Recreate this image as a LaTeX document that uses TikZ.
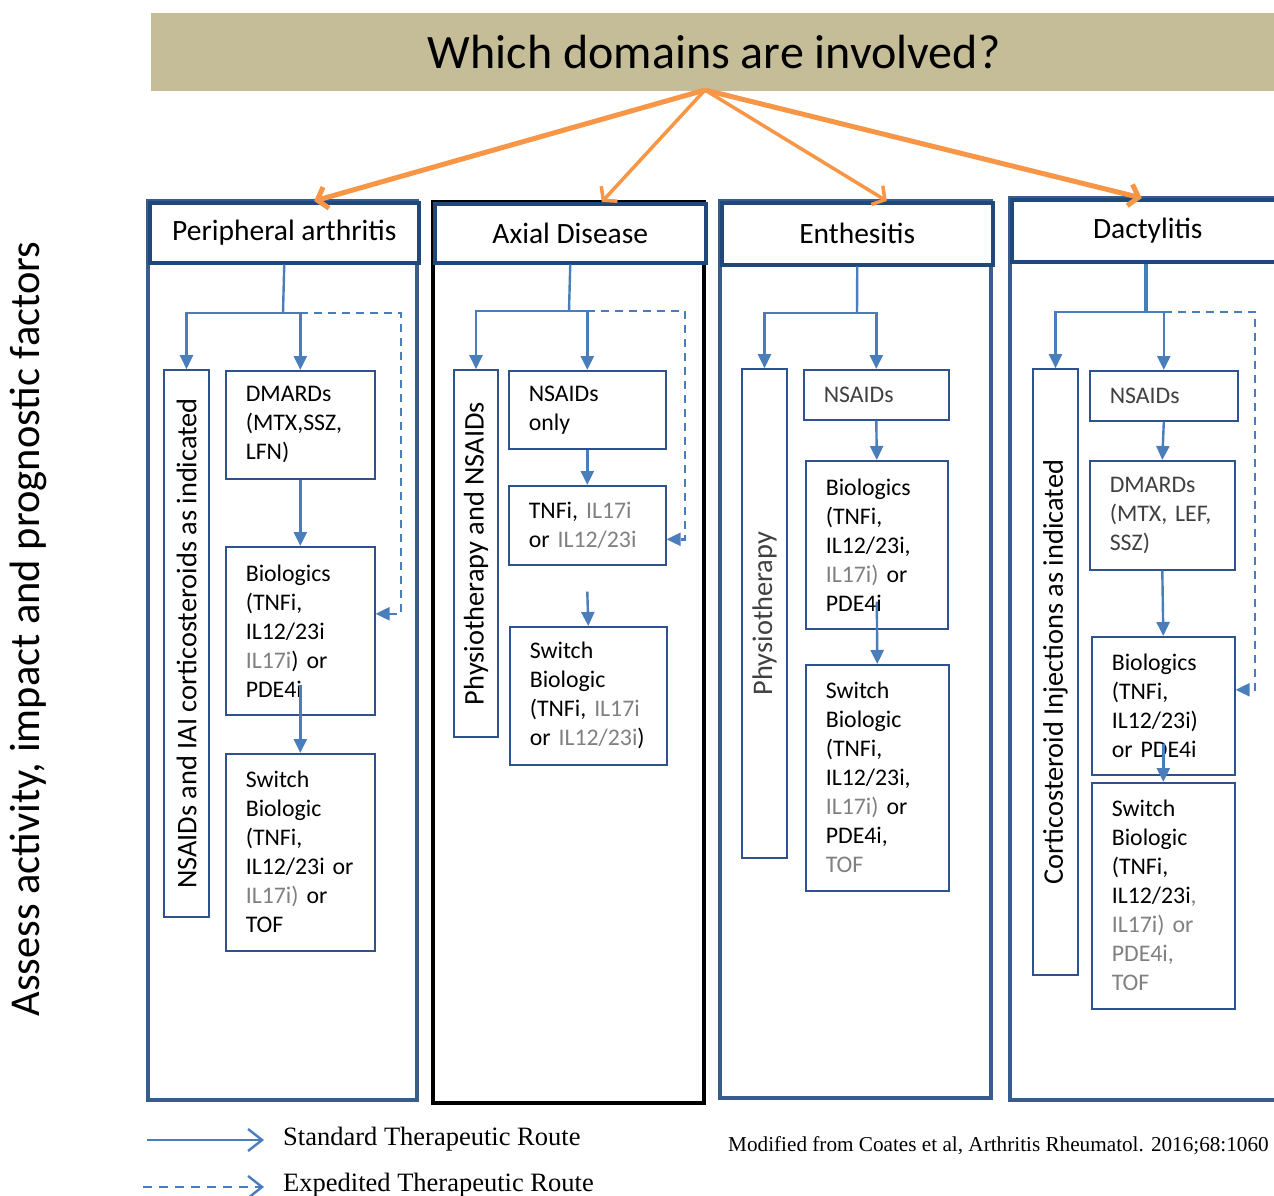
\documentclass[tikz,border=0pt]{standalone}
\usepackage{fontspec}
\setmainfont{Carlito}
\newfontfamily\timesfont{Liberation Serif}
\usepackage{tikz}
\usetikzlibrary{arrows.meta,calc}
\definecolor{TanBar}{RGB}{196,189,151}
\definecolor{OrangeAr}{RGB}{247,150,70}
\definecolor{BoxBlue}{RGB}{47,82,143}
\definecolor{FrameBlue}{RGB}{56,93,138}
\definecolor{HeadBlue}{RGB}{31,73,125}
\definecolor{RouteBlue}{RGB}{74,126,187}
\definecolor{GrayTxt}{RGB}{128,128,128}
\definecolor{DarkTxt}{RGB}{64,64,64}

\begin{document}
\begin{tikzpicture}[x=1pt,y=-1pt,
    drugbox/.style={draw=BoxBlue, line width=1.6pt, align=left, inner xsep=20pt, inner ysep=0pt, anchor=north west, font=\fontsize{23.8}{29}\selectfont},
    sidebox/.style={draw=BoxBlue, line width=1.6pt, rotate=90, inner sep=0pt, font=\fontsize{28.4}{30}\selectfont},
    domhead/.style={draw=HeadBlue, line width=3.5pt, anchor=north west, inner sep=0pt, font=\fontsize{29.5}{32}\selectfont},
    domframe/.style={draw=FrameBlue, line width=4pt},
    stdroute/.style={RouteBlue, line width=2.4pt, -{Triangle[length=14pt,width=13pt]}},
    fastroute/.style={stdroute, dash pattern=on 8pt off 6pt},
    legroute/.style={RouteBlue, line width=2.4pt, -{Straight Barb[length=14pt,width=22pt,line width=2.4pt]}},
    fanarrow/.style={OrangeAr, line width=5pt, -{Straight Barb[length=9pt,width=22pt]}}]
        \useasboundingbox (0,0) rectangle (1274,1196);
        %Title
        \node[fill=TanBar, anchor=north west, minimum width=1126, minimum height=78, inner sep=0pt, font=\fontsize{48}{52}\selectfont] (quest) at (151,13) {Which domains are involved?};
        \node[rotate=90, font=\fontsize{42.5}{46}\selectfont] (assess) at (28,629) {Assess activity, impact and prognostic factors};
        %Frames
        \draw[domframe] (148,201) rectangle (417,1100);
        \draw[line width=4pt, black] (433,202) rectangle (704,1103);
        \draw[domframe] (720,201) rectangle (991,1098);
        \draw[domframe] (1010,198) rectangle (1290,1100);
        %Headers
        \node[domhead, fill=white, minimum width=269, minimum height=60] (pahead) at (148,201) {Peripheral arthritis};
        \node[domhead, fill=white, minimum width=271, minimum height=59] (axhead) at (433,202) {Axial Disease};
        \node[domhead, fill=white, minimum width=271, minimum height=62] (enhead) at (720,201) {Enthesitis};
        \node[domhead, fill=white, minimum width=280, minimum height=62] (dahead) at (1010,198) {\hspace*{-8pt}Dactylitis};
        %Fan
        \coordinate (fan) at (705,90);
        \draw[fanarrow] (fan) -- ([xshift=30pt]pahead.north);
        \draw[fanarrow, line width=3.5pt] (fan) -- ([xshift=31.5pt]axhead.north);
        \draw[fanarrow, line width=3.5pt] (fan) -- ([xshift=29.5pt]enhead.north);
        \draw[fanarrow] (fan) -- ([xshift=-10pt]dahead.north);

        %Peripheral arthritis
        \node[sidebox, minimum width=547, minimum height=45] (pa0) at (186.5,643.5) {NSAIDs and IAI corticosteroids as indicated};
        \node[drugbox, text width=109, minimum height=108] (pa1) at (225,370) {DMARDs\\(MTX,SSZ,\\LFN)};
        \node[drugbox, text width=109, minimum height=168] (pa2) at (225,546) {Biologics\\(TNFi,\\IL12/23i\\\textcolor{GrayTxt}{IL17i}) or\\PDE4i};
        \node[drugbox, text width=109, minimum height=197] (pa3) at (225,753) {Switch\\Biologic\\(TNFi,\\IL12/23i or\\\textcolor{GrayTxt}{IL17i)} or\\TOF};
        \coordinate (pasplit) at (283,313);
        \coordinate (padash) at (401,313);
        \draw[stdroute, -] (pahead.south) -- (pasplit);
        \draw[stdroute] (pasplit) -| (pa0.east);
        \draw[stdroute] (pasplit) -| (pa1.north);
        \draw[stdroute] (pa1.south) -- (pa2.north);
        \draw[stdroute] ([yshift=31pt]pa2.south) -- (pa3.north);
        \draw[fastroute] (pa1.north |- pasplit) -- (padash) |- ([yshift=17pt]pa2.east);

        %Axial disease
        \node[sidebox, minimum width=367, minimum height=44] (ax0) at (476,553.5) {Physiotherapy and NSAIDs};
        \node[drugbox, text width=117, minimum height=78] (ax1) at (508,370) {NSAIDs\\only};
        \node[drugbox, text width=117, minimum height=79] (ax2) at (508,485) {TNFi, \textcolor{GrayTxt}{IL17i}\\or \textcolor{GrayTxt}{IL12/23i}};
        \node[drugbox, text width=117, minimum height=138] (ax3) at (509,626) {Switch\\Biologic\\(TNFi, \textcolor{GrayTxt}{IL17i}\\or \textcolor{GrayTxt}{IL12/23i})};
        \coordinate (axsplit) at (569,311);
        \coordinate (axdash) at (685,311);
        \draw[stdroute, -] (axhead.south) -- (axsplit);
        \draw[stdroute] (axsplit) -| (ax0.east);
        \draw[stdroute] (axsplit) -| (ax1.north);
        \draw[stdroute] (ax1.south) -- (ax2.north);
        \draw[stdroute] ([yshift=-26pt]ax2.south) -- (ax3.north);
        \draw[fastroute] (ax1.north |- axsplit) -- (axdash) |- ([yshift=-14pt]ax2.east);

        %Enthesitis
        \node[sidebox, text=DarkTxt, minimum width=489, minimum height=45] (en0) at (764.5,613.5) {Physiotherapy};
        \node[drugbox, text=DarkTxt, text width=105, minimum height=50] (en1) at (803,369) {NSAIDs};
        \node[drugbox, text width=102, minimum height=168] (en2) at (805,460) {Biologics\\(TNFi,\\IL12/23i,\\\textcolor{GrayTxt}{IL17i)} or\\PDE4i};
        \node[drugbox, text width=103, minimum height=226] (en3) at (805,664) {Switch\\Biologic\\(TNFi,\\IL12/23i,\\\textcolor{GrayTxt}{IL17i)} or\\PDE4i,\\\textcolor{GrayTxt}{TOF}};
        \coordinate (ensplit) at (857,313);
        \draw[stdroute, -] (enhead.south) -- (ensplit);
        \draw[stdroute] (ensplit) -| (en0.east);
        \draw[stdroute] (ensplit) -| (en1.north);
        \draw[stdroute] (en1.south) -- (en2.north);
        \draw[stdroute] ([yshift=28pt]en2.south) -- (en3.north);

        %Dactylitis
        \node[sidebox, minimum width=606, minimum height=45] (da0) at (1055.5,672) {Corticosteroid Injections as indicated};
        \node[drugbox, text=DarkTxt, text width=108, minimum height=50] (da1) at (1089,370) {NSAIDs};
        \node[drugbox, text=DarkTxt, text width=105, minimum height=109] (da2) at (1089,460) {DMARDs\\(MTX, LEF,\\SSZ)};
        \node[drugbox, text width=103, minimum height=138] (da3) at (1091,636) {Biologics\\(TNFi,\\IL12/23i)\\or PDE4i};
        \node[drugbox, text width=103, minimum height=226] (da4) at (1091,782) {Switch\\Biologic\\(TNFi,\\IL12/23i\textcolor{GrayTxt}{,}\\\textcolor{GrayTxt}{IL17i) or}\\\textcolor{GrayTxt}{PDE4i,}\\\textcolor{GrayTxt}{TOF}};
        \coordinate (dasplit) at (1146,312);
        \coordinate (dadash) at (1255,312);
        \draw[stdroute, -, line width=4pt] (dahead.south -| dasplit) -- (dasplit);
        \draw[stdroute] (dasplit) -| (da0.east);
        \draw[stdroute] (dasplit) -| (da1.north);
        \draw[stdroute] (da1.south) -- (da2.north);
        \draw[stdroute] (da2.south) -- (da3.north);
        \draw[stdroute] ([yshift=32pt]da3.south) -- (da4.north);
        \draw[fastroute] (da1.north |- dasplit) -- (dadash) |- ([yshift=16pt]da3.east);

        %Legend
        \coordinate (lgstda) at (147,1140);
        \coordinate (lgstdb) at (264,1140);
        \coordinate (lgfasta) at (143,1187);
        \coordinate (lgfastb) at (264,1187);
        \draw[legroute] (lgstda) -- (lgstdb);
        \draw[legroute, dash pattern=on 9pt off 7pt] (lgfasta) -- (lgfastb);
        \node[anchor=west, inner sep=0pt, font=\timesfont\fontsize{26.5}{30}\selectfont] (lgstd) at (283,1139) {Standard Therapeutic Route};
        \node[anchor=west, inner sep=0pt, font=\timesfont\fontsize{26.5}{30}\selectfont] (lgfast) at (283,1185) {Expedited Therapeutic Route};
        \node[anchor=west, inner sep=0pt, font=\timesfont\fontsize{21.2}{24}\selectfont] (source) at (728,1146) {Modified from Coates et al, Arthritis Rheumatol. 2016;68:1060};
    \end{tikzpicture}
\end{document}
